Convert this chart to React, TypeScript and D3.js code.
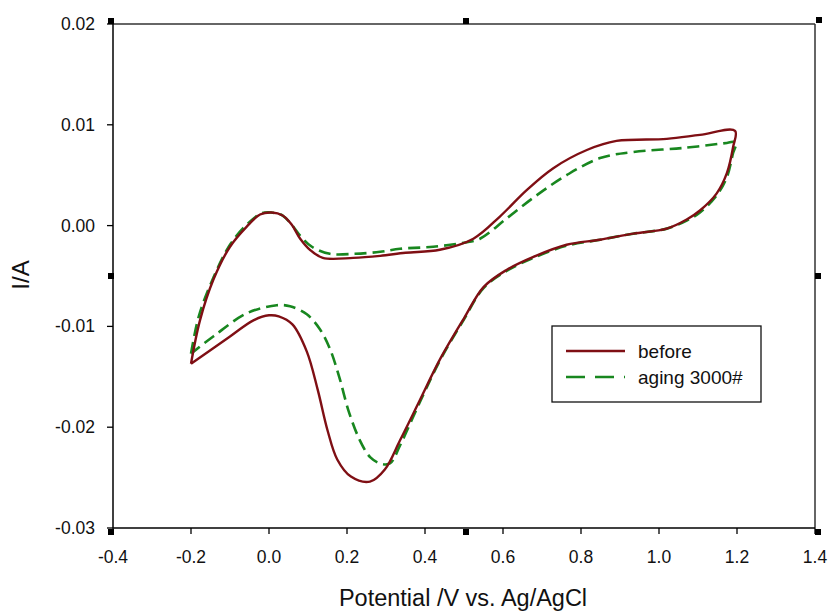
import React from "react";
import * as d3 from "d3";

const beforeV = [-0.2,-0.177,-0.143,-0.1,-0.057,-0.023,0.007,0.035,0.058,0.08,0.105,0.138,0.216,0.285,0.35,0.438,0.524,0.592,0.66,0.729,0.815,0.891,1.02,1.105,1.195,
  1.19,1.174,1.148,1.105,1.071,1.02,0.934,0.849,0.763,0.678,0.609,0.55,0.5,0.438,0.387,0.336,0.297,0.259,0.21,0.175,0.15,0.125,0.097,0.06,0.025,0.0,-0.04,-0.1,-0.2];
const beforeI = [-0.0137,-0.0094,-0.0054,-0.0021,-0.0001,0.0011,0.0013,0.001,0.0001,-0.0013,-0.0024,-0.0032,-0.0032,-0.003,-0.0027,-0.0024,-0.0013,0.0009,0.0035,0.0057,0.0075,0.0084,0.0086,0.009,0.0094,
  0.0078,0.0052,0.0032,0.0015,0.0006,-0.0003,-0.0008,-0.0014,-0.0019,-0.0031,-0.0044,-0.0061,-0.0092,-0.0133,-0.0173,-0.0213,-0.0242,-0.0254,-0.0249,-0.0232,-0.0203,-0.0163,-0.0125,-0.0098,-0.0090,-0.0089,-0.0094,-0.011,-0.0137];

const agingV = [-0.2,-0.18,-0.143,-0.1,-0.057,-0.02,0.005,0.035,0.058,0.082,0.11,0.156,0.22,0.285,0.336,0.421,0.5,0.541,0.609,0.686,0.763,0.849,0.934,1.062,1.174,1.198,
  1.19,1.174,1.148,1.105,1.071,1.02,0.934,0.849,0.763,0.678,0.609,0.55,0.5,0.438,0.387,0.336,0.31,0.285,0.26,0.233,0.205,0.18,0.156,0.131,0.097,0.054,0.02,-0.057,-0.143,-0.2];
const agingI = [-0.0127,-0.009,-0.0052,-0.0019,0.0001,0.0012,0.0013,0.001,0.0001,-0.0011,-0.0021,-0.0028,-0.0028,-0.0026,-0.0023,-0.0021,-0.0017,-0.0013,0.0007,0.003,0.005,0.0067,0.0073,0.0077,0.0082,0.0083,
  0.0072,0.0048,0.003,0.0013,0.0005,-0.0003,-0.0008,-0.0014,-0.002,-0.0032,-0.0045,-0.0062,-0.0093,-0.0134,-0.0175,-0.0218,-0.0236,-0.0236,-0.023,-0.0213,-0.0185,-0.015,-0.0122,-0.0103,-0.0088,-0.008,-0.0079,-0.0087,-0.011,-0.0127];

const xTicks = [-0.4,-0.2,0.0,0.2,0.4,0.6,0.8,1.0,1.2,1.4];
const yTicks = [0.02,0.01,0.0,-0.01,-0.02,-0.03];
const seriesNames = ["before", "aging 3000#"];

const L = 113, R = 815, T = 24, B = 528;

export default function App() {
  const x = d3.scaleLinear().domain([-0.4, 1.4]).range([L, R]);
  const y = d3.scaleLinear().domain([-0.03, 0.02]).range([B, T]);
  const line = d3.line<[number, number]>().x(d => x(d[0])).y(d => y(d[1])).curve(d3.curveCatmullRom.alpha(0.5));
  const before = beforeV.map((v, i) => [v, beforeI[i]] as [number, number]);
  const aging = agingV.map((v, i) => [v, agingI[i]] as [number, number]);
  const font = "Arial, 'Liberation Sans', sans-serif";
  const red = "#7f0f14";
  const green = "#18871f";
  const handles = [[L - 2, T - 3], [(L + R) / 2 + 2, T - 3], [R + 4, T - 4], [L - 2, (T + B) / 2], [R + 3, (T + B) / 2], [L - 2, B + 4], [(L + R) / 2 + 2, B + 4], [R + 3, B + 4]];
  return (
    <svg width={828} height={612} style={{ position: "absolute", left: 0, top: 0, background: "#fff" }}>
      <rect x={0} y={0} width={828} height={612} fill="#fff" />
      <line x1={L} y1={T} x2={R} y2={T} stroke="#333" strokeWidth={1.5} />
      <line x1={R} y1={T} x2={R} y2={B} stroke="#333" strokeWidth={1.5} />
      <line x1={L} y1={T} x2={L} y2={B} stroke="#000" strokeWidth={1.5} />
      <line x1={L} y1={B} x2={R} y2={B} stroke="#000" strokeWidth={1.5} />
      {xTicks.map(t => (
        <g key={"x" + t}>
          <line x1={x(t)} x2={x(t)} y1={B} y2={B + 6} stroke="#000" strokeWidth={1.3} />
          <text x={x(t)} y={B + 35} textAnchor="middle" fontFamily={font} fontSize={17.5} fill="#111">{t.toFixed(1)}</text>
        </g>
      ))}
      {yTicks.map(t => (
        <g key={"y" + t}>
          <line x1={L - 6} x2={L} y1={y(t)} y2={y(t)} stroke="#000" strokeWidth={1.3} />
          <text x={L - 18} y={y(t) + 6} textAnchor="end" fontFamily={font} fontSize={17.5} fill="#111">{t.toFixed(2)}</text>
        </g>
      ))}
      {handles.map((h, i) => (
        <rect key={"h" + i} x={h[0] - 3} y={h[1] - 3} width={6} height={6} fill="#000" />
      ))}
      <path d={line(aging) || ""} fill="none" stroke={green} strokeWidth={2.6} strokeDasharray="12,6" />
      <path d={line(before) || ""} fill="none" stroke={red} strokeWidth={2.4} />
      <rect x={552} y={326} width={209} height={76} fill="#fff" stroke="#111" strokeWidth={1.3} />
      <line x1={566} x2={625} y1={351} y2={351} stroke={red} strokeWidth={2.6} />
      <line x1={566} x2={625} y1={377} y2={377} stroke={green} strokeWidth={2.6} strokeDasharray="19,10" />
      <text x={638} y={358} fontFamily={font} fontSize={19} fill="#111">{seriesNames[0]}</text>
      <text x={638} y={384} fontFamily={font} fontSize={19} fill="#111">{seriesNames[1]}</text>
      <text x={463} y={606} textAnchor="middle" fontFamily={font} fontSize={23.5} fill="#111">Potential /V vs. Ag/AgCl</text>
      <text transform="translate(29,275) rotate(-90)" textAnchor="middle" fontFamily={font} fontSize={24} fill="#111">I/A</text>
    </svg>
  );
}
